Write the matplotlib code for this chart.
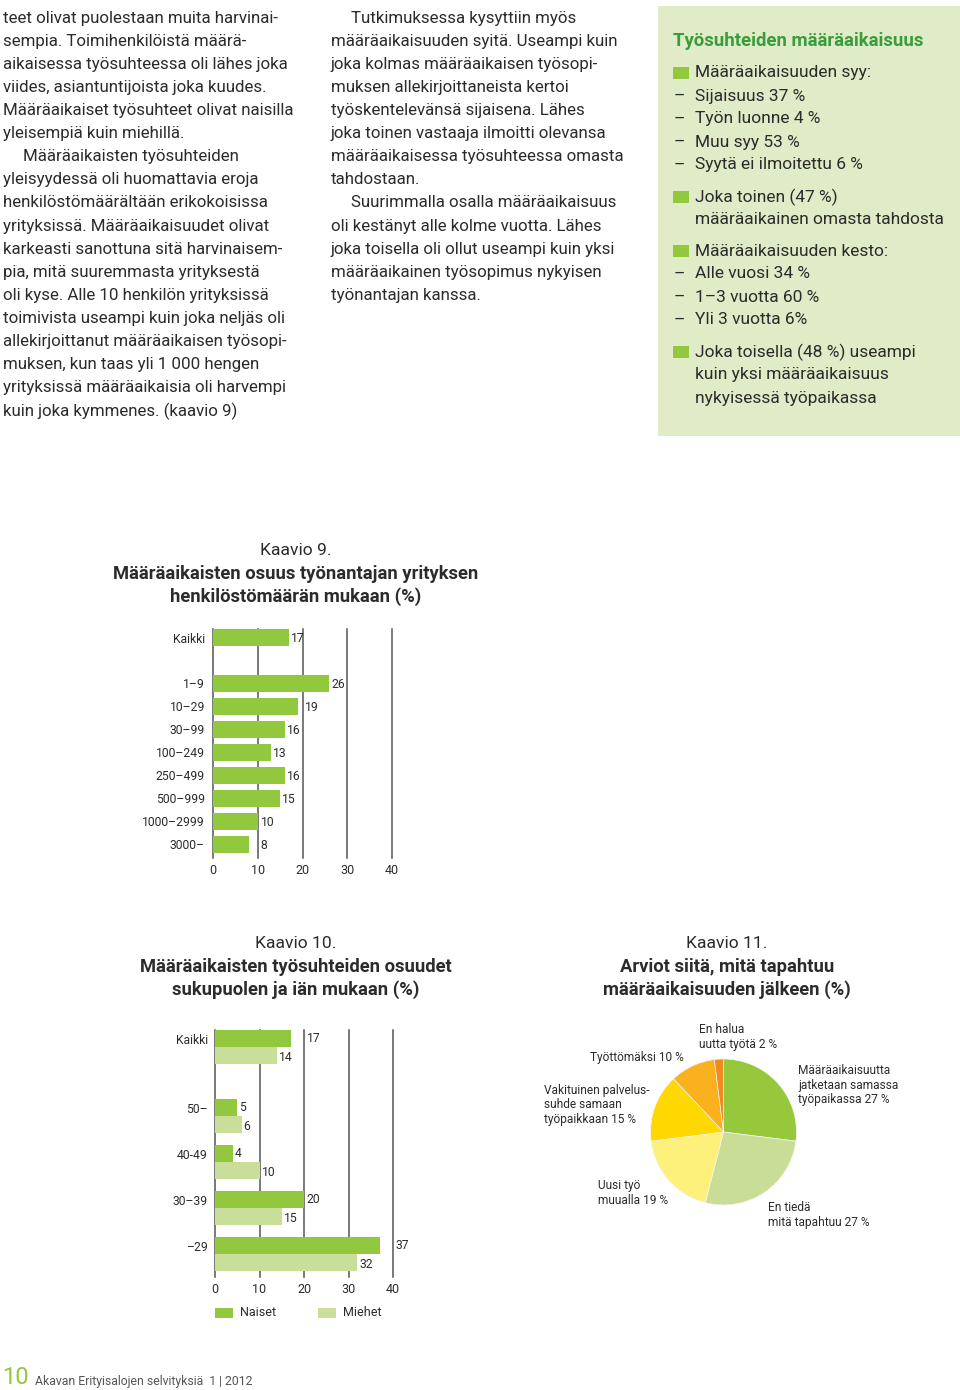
import matplotlib
matplotlib.use("Agg")
import matplotlib.pyplot as plt
from matplotlib.patches import Rectangle

W, H = 960, 1390
plt.rcParams["font.family"] = ["Roboto", "DejaVu Sans"]

TEXT = "#2b2b2b"
GREEN = "#92c83e"
LIGHT = "#c9de98"
BOX = "#e0ebc7"
TITLE_GREEN = "#3a9c3c"
GRID = "#555555"

# Kaavio 9: share of fixed-term by employer size (%)
size_labels = ["Kaikki", "1–9", "10–29", "30–99", "100–249", "250–499",
               "500–999", "1000–2999", "3000–"]
size_share = [17, 26, 19, 16, 13, 16, 15, 10, 8]

# Kaavio 10: by gender and age (%)
age_labels = ["Kaikki", "50–", "40-49", "30–39", "–29"]
women_share = [17, 5, 4, 20, 37]
men_share = [14, 6, 10, 15, 32]
legend_labels = ["Naiset", "Miehet"]

# Kaavio 11: what happens after the fixed term (%)
pie_share = [27, 27, 19, 15, 10, 2]
pie_colors = ["#96c83c", "#c9dd96", "#fdf17c", "#fed800", "#f9b21e", "#f08a22"]

left_col = [
    (0, "teet olivat puolestaan muita harvinai-"),
    (0, "sempia. Toimihenkilöistä määrä-"),
    (0, "aikaisessa työsuhteessa oli lähes joka"),
    (0, "viides, asiantuntijoista joka kuudes."),
    (0, "Määräaikaiset työsuhteet olivat naisilla"),
    (0, "yleisempiä kuin miehillä."),
    (1, "Määräaikaisten työsuhteiden"),
    (0, "yleisyydessä oli huomattavia eroja"),
    (0, "henkilöstömäärältään erikokoisissa"),
    (0, "yrityksissä. Määräaikaisuudet olivat"),
    (0, "karkeasti sanottuna sitä harvinaisem-"),
    (0, "pia, mitä suuremmasta yrityksestä"),
    (0, "oli kyse. Alle 10 henkilön yrityksissä"),
    (0, "toimivista useampi kuin joka neljäs oli"),
    (0, "allekirjoittanut määräaikaisen työsopi-"),
    (0, "muksen, kun taas yli 1 000 hengen"),
    (0, "yrityksissä määräaikaisia oli harvempi"),
    (0, "kuin joka kymmenes. (kaavio 9)"),
]
mid_col = [
    (1, "Tutkimuksessa kysyttiin myös"),
    (0, "määräaikaisuuden syitä. Useampi kuin"),
    (0, "joka kolmas määräaikaisen työsopi-"),
    (0, "muksen allekirjoittaneista kertoi"),
    (0, "työskentelevänsä sijaisena. Lähes"),
    (0, "joka toinen vastaaja ilmoitti olevansa"),
    (0, "määräaikaisessa työsuhteessa omasta"),
    (0, "tahdostaan."),
    (1, "Suurimmalla osalla määräaikaisuus"),
    (0, "oli kestänyt alle kolme vuotta. Lähes"),
    (0, "joka toisella oli ollut useampi kuin yksi"),
    (0, "määräaikainen työsopimus nykyisen"),
    (0, "työnantajan kanssa."),
]
box_title = "Työsuhteiden määräaikaisuus"
box_items = [
    ("sq", "Määräaikaisuuden syy:", 73),
    ("–", "Sijaisuus 37 %", 96),
    ("–", "Työn luonne 4 %", 119),
    ("–", "Muu syy 53 %", 142),
    ("–", "Syytä ei ilmoitettu 6 %", 165),
    ("sq", "Joka toinen (47 %)", 197),
    ("", "määräaikainen omasta tahdosta", 220),
    ("sq", "Määräaikaisuuden kesto:", 251),
    ("–", "Alle vuosi 34 %", 274),
    ("–", "1–3 vuotta 60 %", 297),
    ("–", "Yli 3 vuotta 6%", 320),
    ("sq", "Joka toisella (48 %) useampi", 352),
    ("", "kuin yksi määräaikaisuus", 375),
    ("", "nykyisessä työpaikassa", 398),
]


def fx(x):
    return x / W


def fy(y):
    return 1 - y / H


def put(x, y, s, **kw):
    kw.setdefault("color", TEXT)
    kw.setdefault("va", "center")
    fig.text(fx(x), fy(y), s, **kw)


def add_axes(left, top, right, bottom):
    return fig.add_axes([left / W, 1 - bottom / H, (right - left) / W, (bottom - top) / H])


def label_x(v, clearance):
    g = -(-v // 10) * 10
    if g - v < clearance:
        return g + 0.6
    return v + 0.45


def bar_frame(ax):
    ax.set_xlim(0, 40)
    for s in ["top", "right", "bottom"]:
        ax.spines[s].set_visible(False)
    ax.spines["left"].set_color(GRID)
    ax.spines["left"].set_linewidth(1.1)
    for g in [10, 20, 30, 40]:
        ax.axvline(g, color=GRID, lw=1.1, zorder=0, clip_on=False)
    ax.set_xticks([0, 10, 20, 30, 40])
    ax.tick_params(axis="x", length=0, pad=4, labelsize=9, colors=TEXT)
    ax.tick_params(axis="y", length=0, pad=6, labelsize=8.7, colors=TEXT)
    ax.set_facecolor("none")


fig = plt.figure(figsize=(W / 100, H / 100), dpi=100)

# body text columns
step = 23.12
body_fs = 12.2
for i, (ind, s) in enumerate(left_col):
    put(3 + ind * 20, 18 + i * step, s, fontsize=body_fs)
for i, (ind, s) in enumerate(mid_col):
    put(331 + ind * 20, 18 + i * step, s, fontsize=body_fs)

# fact box
fig.add_artist(Rectangle((fx(658), fy(436)), (960 - 658) / W, (436 - 6) / H,
                         transform=fig.transFigure, color=BOX, lw=0, zorder=0))
put(673, 41, box_title, fontsize=13.3, fontweight="bold", color=TITLE_GREEN)
for mark, s, y in box_items:
    if mark == "sq":
        fig.add_artist(Rectangle((fx(673), fy(y + 6)), 16 / W, 12 / H,
                                 transform=fig.transFigure, color=GREEN, lw=0))
    elif mark:
        put(674, y, mark, fontsize=12.5)
    put(695, y, s, fontsize=12.5)

# Kaavio 9
title_fs = 12.6
put(296, 551, "Kaavio 9.", fontsize=title_fs, ha="center")
put(296, 574, "Määräaikaisten osuus työnantajan yrityksen", fontsize=13.2,
    ha="center", fontweight="bold")
put(296, 597, "henkilöstömäärän mukaan (%)", fontsize=13.2, ha="center",
    fontweight="bold")

ax9 = add_axes(213.3, 629, 391.7, 858)
pos9 = [0] + [i + 1 for i in range(1, len(size_labels))]
ax9.barh(pos9, size_share, height=0.74, color=GREEN, zorder=3)
bar_frame(ax9)
ax9.set_ylim(9.59, -0.37)
ax9.set_yticks(pos9, size_labels)
for p, v in zip(pos9, size_share):
    ax9.text(label_x(v, 2.5), p + 0.05, str(v), va="center", ha="left",
             fontsize=8.7, color=TEXT)

# Kaavio 10
put(296, 944, "Kaavio 10.", fontsize=title_fs, ha="center")
put(296, 967, "Määräaikaisten työsuhteiden osuudet", fontsize=13.2,
    ha="center", fontweight="bold")
put(296, 990, "sukupuolen ja iän mukaan (%)", fontsize=13.2, ha="center",
    fontweight="bold")

ax10 = add_axes(215, 1030, 393, 1277)
pos10 = [0] + [i + 0.5 for i in range(1, len(age_labels))]
h = 0.37
ax10.barh([p - h / 2 for p in pos10], women_share, height=h, color=GREEN, zorder=3)
ax10.barh([p + h / 2 for p in pos10], men_share, height=h, color=LIGHT, zorder=3)
bar_frame(ax10)
ax10.set_ylim(5.0, -0.37)
ax10.set_yticks([])
for p, lab in zip(pos10, age_labels):
    ax10.text(-1.6, p - 0.14, lab, ha="right", va="center", fontsize=8.7, color=TEXT)
for p, v in zip(pos10, women_share):
    ax10.text(label_x(v, 3.5), p - h / 2, str(v), va="center", ha="left",
              fontsize=8.7, color=TEXT)
for p, v in zip(pos10, men_share):
    ax10.text(label_x(v, 3.5), p + h / 2 + 0.04, str(v), va="center", ha="left",
              fontsize=8.7, color=TEXT)

for x0, col, lab in zip([215, 318], [GREEN, LIGHT], legend_labels):
    fig.add_artist(Rectangle((fx(x0), fy(1318)), 18 / W, 10 / H,
                             transform=fig.transFigure, color=col, lw=0))
    put(x0 + 25, 1313, lab, fontsize=9)

# Kaavio 11
put(727, 944, "Kaavio 11.", fontsize=title_fs, ha="center")
put(727, 967, "Arviot siitä, mitä tapahtuu", fontsize=13.2, ha="center",
    fontweight="bold")
put(727, 990, "määräaikaisuuden jälkeen (%)", fontsize=13.2, ha="center",
    fontweight="bold")

ax11 = add_axes(723.5 - 73, 1132 - 73, 723.5 + 73, 1132 + 73)
ax11.pie(pie_share, colors=pie_colors, startangle=90, counterclock=False,
         radius=1, wedgeprops={"linewidth": 0.5, "edgecolor": "#f4f4f0"})
ax11.set_xlim(-1, 1)
ax11.set_ylim(-1, 1)

pie_fs = 8.6
put(699, 1037, "En halua\nuutta työtä 2 %", fontsize=pie_fs, linespacing=1.15)
put(590, 1057, "Työttömäksi 10 %", fontsize=pie_fs)
put(544, 1105, "Vakituinen palvelus-\nsuhde samaan\ntyöpaikkaan 15 %",
    fontsize=pie_fs, linespacing=1.15)
put(798, 1085, "Määräaikaisuutta\njatketaan samassa\ntyöpaikassa 27 %",
    fontsize=pie_fs, linespacing=1.15)
put(598, 1193, "Uusi työ\nmuualla 19 %", fontsize=pie_fs, linespacing=1.15)
put(768, 1215, "En tiedä\nmitä tapahtuu 27 %", fontsize=pie_fs, linespacing=1.15)

# footer
put(2, 1377, "10", fontsize=17, color=GREEN)
put(35, 1381, "Akavan Erityisalojen selvityksiä  1 | 2012", fontsize=8.8,
    color="#555555")

fig.savefig("out.png", dpi=100)
